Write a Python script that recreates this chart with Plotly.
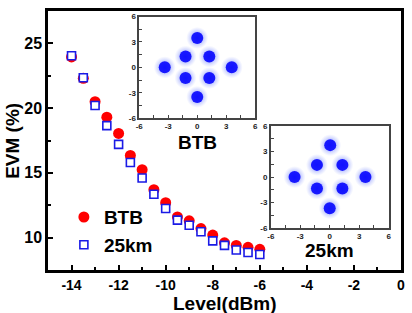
import plotly.graph_objects as go

# ---- data ----
level = [-14, -13.5, -13, -12.5, -12, -11.5, -11, -10.5, -10, -9.5, -9, -8.5, -8, -7.5, -7, -6.5, -6]
evm_btb = [23.95, 22.3, 20.5, 19.3, 18.05, 16.35, 15.25, 13.7, 12.7, 11.6, 11.3, 10.7, 10.2, 9.6, 9.4, 9.25, 9.1]
evm_25km = [24.05, 22.35, 20.2, 18.65, 17.2, 15.8, 14.6, 13.35, 12.25, 11.35, 10.95, 10.45, 9.75, 9.4, 9.05, 8.85, 8.7]

# constellation cluster centres (I, Q)
btb_i = [0.0, -1.21, 1.25, -3.36, 3.57, -1.21, 1.25, 0.0]
btb_q = [3.48, 1.27, 1.27, 0.0, 0.0, -1.26, -1.26, -3.5]
km25_i = [0.05, -1.3, 1.29, -3.58, 3.64, -1.3, 1.29, 0.0]
km25_q = [3.77, 1.44, 1.44, 0.0, 0.0, -1.35, -1.35, -3.67]

x_ticks = [-14, -12, -10, -8, -6, -4, -2, 0]
y_ticks = [10, 15, 20, 25]
inset_tickvals = [-6, -4.5, -3, -1.5, 0, 1.5, 3, 4.5, 6]
inset_ticktext = ["-6", "", "-3", "", "0", "", "3", "", "6"]

FONT = "Liberation Sans, Arial, sans-serif"

fig = go.Figure()

fig.add_trace(go.Scatter(
    x=level, y=evm_btb, mode="markers", name="BTB",
    marker=dict(symbol="circle", size=11, color="#ff0000", line=dict(width=0)),
))
fig.add_trace(go.Scatter(
    x=level, y=evm_25km, mode="markers", name="25km",
    marker=dict(symbol="square", size=8, color="white", line=dict(width=1.6, color="#1a1ae6")),
))

def add_constellation(xs, ys, xa, ya):
    fig.add_trace(go.Scatter(
        x=xs, y=ys, xaxis=xa, yaxis=ya, mode="markers", showlegend=False, hoverinfo="skip",
        marker=dict(size=22, color="rgba(120,140,255,0)",
                    gradient=dict(type="radial", color="rgba(40,60,255,0.75)"),
                    line=dict(width=0)),
    ))
    fig.add_trace(go.Scatter(
        x=xs, y=ys, xaxis=xa, yaxis=ya, mode="markers", showlegend=False, hoverinfo="skip",
        marker=dict(size=12, color="#0a0aff", opacity=0.92, line=dict(width=0)),
    ))

add_constellation(btb_i, btb_q, "x2", "y2")
add_constellation(km25_i, km25_q, "x3", "y3")

main_axis = dict(showline=True, linecolor="black", linewidth=2.5, mirror=True,
                 showgrid=False, zeroline=False, ticks="inside", ticklen=5, tickwidth=2,
                 tickcolor="black")

inset_axis = dict(range=[-6, 6], showline=True, linecolor="#444", linewidth=1.5, mirror=True,
                  showgrid=False, zeroline=False, ticks="inside", ticklen=3, tickwidth=1.2,
                  tickcolor="#444", tickmode="array", tickvals=inset_tickvals, ticktext=inset_ticktext,
                  tickfont=dict(family=FONT, size=8, color="#222", weight="bold"),
                  fixedrange=True)

fig.update_layout(
    width=412, height=313,
    margin=dict(l=48, r=8, t=7, b=43),
    paper_bgcolor="white", plot_bgcolor="white",
    font=dict(family=FONT, color="black"),
    xaxis=dict(main_axis, range=[-15, 0], tickvals=x_ticks,
               ticktext=[str(v) for v in x_ticks],
               tickfont=dict(family=FONT, size=14, weight="bold"),
               minor=dict(dtick=1, tick0=0, ticks="inside", ticklen=3, tickwidth=1.5, tickcolor="black")),
    yaxis=dict(main_axis, range=[7.5, 27.5], tickvals=y_ticks,
               ticktext=[str(v) for v in y_ticks],
               tickfont=dict(family=FONT, size=16, weight="bold"),
               minor=dict(dtick=2.5, tick0=0, ticks="inside", ticklen=3, tickwidth=1.5, tickcolor="black")),
    xaxis2=dict(inset_axis, domain=[0.2584, 0.5871], anchor="y2"),
    yaxis2=dict(inset_axis, domain=[0.5867, 0.9783], anchor="x2"),
    xaxis3=dict(inset_axis, domain=[0.6312, 0.9649], anchor="y3"),
    yaxis3=dict(inset_axis, domain=[0.1624, 0.5551], anchor="x3"),
    showlegend=True,
    legend=dict(x=0.045, y=0.15, xanchor="left", yanchor="middle",
                bgcolor="rgba(0,0,0,0)", borderwidth=0,
                font=dict(family=FONT, size=19, weight="bold"),
                tracegroupgap=0, itemsizing="trace"),
    annotations=[
        dict(text="Level(dBm)", x=0.5, y=-0.080, xref="paper", yref="paper",
             xanchor="center", yanchor="top", showarrow=False,
             font=dict(family=FONT, size=19, weight="bold")),
        dict(text="EVM (%)", x=-0.101, y=0.5, xref="paper", yref="paper", textangle=-90,
             xanchor="center", yanchor="middle", showarrow=False,
             font=dict(family=FONT, size=19, weight="bold")),
        dict(text="BTB", x=0.423, y=0.54, xref="paper", yref="paper",
             xanchor="center", yanchor="top", showarrow=False,
             font=dict(family=FONT, size=19, weight="bold")),
        dict(text="25km", x=0.797, y=0.122, xref="paper", yref="paper",
             xanchor="center", yanchor="top", showarrow=False,
             font=dict(family=FONT, size=19, weight="bold")),
    ],
)

fig.write_html("out.html")
